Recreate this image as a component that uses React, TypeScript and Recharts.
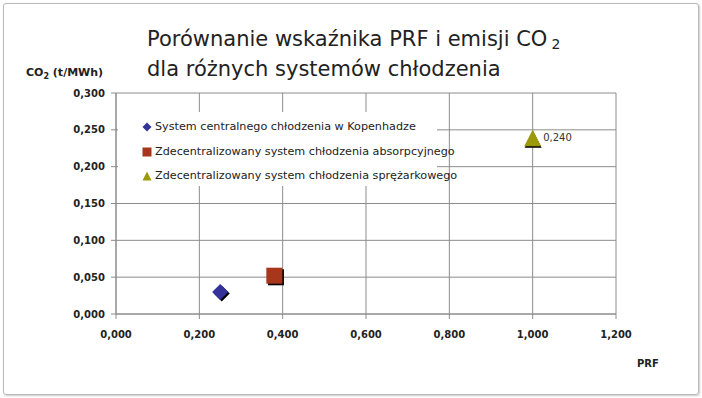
import React from 'react';
import { ScatterChart, Scatter, XAxis, YAxis, CartesianGrid, LabelList } from 'recharts';

const seriesNames = [
  'System centralnego chłodzenia w Kopenhadze',
  'Zdecentralizowany system chłodzenia absorpcyjnego',
  'Zdecentralizowany system chłodzenia sprężarkowego',
];
const prfValues = [0.25, 0.38, 1.0];
const co2Values = [0.03, 0.052, 0.24];
const labelTexts = ['', '', '0,240'];
const xTicks = [0, 0.2, 0.4, 0.6, 0.8, 1.0, 1.2];
const yTicks = [0, 0.05, 0.1, 0.15, 0.2, 0.25, 0.3];
const colors = ['#333399', '#A8361C', '#9C9A0A'];
const shapes = ['diamond', 'square', 'triangle'];

const fmt = (v: number) => v.toFixed(3).replace('.', ',');

function Marker(props: any) {
  const { cx, cy, kind, color } = props;
  if (cx == null || cy == null) return null;
  const s = 1.6;
  if (kind === 'diamond') {
    const r = 8;
    const pts = (dx: number, dy: number) =>
      `${cx + dx},${cy - r + dy} ${cx + r + dx},${cy + dy} ${cx + dx},${cy + r + dy} ${cx - r + dx},${cy + dy}`;
    return (
      <g>
        <polygon points={pts(s, s)} fill="#000" />
        <polygon points={pts(0, 0)} fill={color} />
      </g>
    );
  }
  if (kind === 'square') {
    const h = 8;
    return (
      <g>
        <rect x={cx - h + s} y={cy - h + s} width={2 * h} height={2 * h} fill="#000" />
        <rect x={cx - h} y={cy - h} width={2 * h} height={2 * h} fill={color} />
      </g>
    );
  }
  const w = 8.5;
  const pts = (dx: number, dy: number) =>
    `${cx + dx},${cy - 7.5 + dy} ${cx + w + dx},${cy + 9 + dy} ${cx - w + dx},${cy + 9 + dy}`;
  return (
    <g>
      <polygon points={pts(0.5, s)} fill="#000" />
      <polygon points={pts(0, 0)} fill={color} />
    </g>
  );
}

function LegendIcon({ kind, color }: { kind: string; color: string }) {
  return (
    <svg width={12} height={12} style={{ display: 'block' }}>
      {kind === 'diamond' && <polygon points="6,1.5 10.5,6 6,10.5 1.5,6" fill={color} />}
      {kind === 'square' && <rect x={1.5} y={1.5} width={9} height={9} fill={color} />}
      {kind === 'triangle' && <polygon points="6,1.5 10.5,10.5 1.5,10.5" fill={color} />}
    </svg>
  );
}

const tickStyle = {
  fill: '#222',
  fontSize: 10,
  fontWeight: 'bold',
  fontFamily: 'DejaVu Sans, Verdana, sans-serif',
};

export default function App() {
  const seriesData = seriesNames.map((name, i) => [
    { x: prfValues[i], y: co2Values[i], label: labelTexts[i], name },
  ]);
  return (
    <div
      style={{
        position: 'absolute',
        left: 0,
        top: 0,
        width: 702,
        height: 398,
        background: '#fff',
        fontFamily: 'DejaVu Sans, Verdana, sans-serif',
      }}
    >
      <div
        style={{
          position: 'absolute',
          left: 3,
          top: 3,
          width: 694,
          height: 390,
          border: '1px solid #b8b8b8',
          borderRadius: 3,
          boxShadow: '1px 1px 2px #ccc',
        }}
      />
      <div
        style={{
          position: 'absolute',
          left: 147,
          top: 25,
          fontSize: 21,
          lineHeight: '28px',
          color: '#222',
          whiteSpace: 'nowrap',
        }}
      >
        <div>
          Porównanie wskaźnika PRF i emisji CO
          <span style={{ fontSize: 14, position: 'relative', top: 3, marginLeft: 4 }}>2</span>
        </div>
        <div>dla różnych systemów chłodzenia</div>
      </div>
      <div
        style={{
          position: 'absolute',
          left: 26,
          top: 66,
          fontSize: 11,
          fontWeight: 'bold',
          color: '#222',
          whiteSpace: 'nowrap',
        }}
      >
        CO<span style={{ fontSize: 8, position: 'relative', top: 3 }}>2</span> (t/MWh)
      </div>
      <div
        style={{
          position: 'absolute',
          left: 637,
          top: 358,
          fontSize: 10,
          fontWeight: 'bold',
          color: '#222',
        }}
      >
        PRF
      </div>
      <ScatterChart
        width={702}
        height={398}
        margin={{ top: 93, right: 86, bottom: 54, left: 0 }}
        style={{ position: 'absolute', left: 0, top: 0 }}
      >
        <CartesianGrid stroke="#8c8c8c" strokeWidth={1} horizontalValues={yTicks} verticalValues={xTicks} />
        <XAxis
          type="number"
          dataKey="x"
          domain={[0, 1.2]}
          ticks={xTicks}
          tickFormatter={fmt}
          stroke="#8c8c8c"
          tickSize={5}
          tickMargin={12}
          height={30}
          tick={tickStyle}
          interval={0}
        />
        <YAxis
          type="number"
          dataKey="y"
          domain={[0, 0.3]}
          ticks={yTicks}
          tickFormatter={fmt}
          stroke="#8c8c8c"
          tickSize={5}
          tickMargin={6}
          width={116}
          tick={tickStyle}
          interval={0}
        />
        {seriesData.map((d, i) => (
          <Scatter
            key={i}
            name={seriesNames[i]}
            data={d}
            isAnimationActive={false}
            shape={(p: any) => <Marker {...p} kind={shapes[i]} color={colors[i]} />}
          >
            {labelTexts[i] && (
              <LabelList
                dataKey="label"
                position="right"
                offset={6}
                style={{ fill: '#333', fontSize: 10, fontFamily: 'DejaVu Sans, Verdana, sans-serif' }}
              />
            )}
          </Scatter>
        ))}
      </ScatterChart>
      <div
        style={{
          position: 'absolute',
          left: 118,
          top: 112,
          width: 319,
          height: 74,
          background: '#fff',
        }}
      >
        {seriesNames.map((n, i) => (
          <div
            key={i}
            style={{
              position: 'absolute',
              left: 23,
              top: 8 + i * 24.5,
              display: 'flex',
              alignItems: 'center',
              whiteSpace: 'nowrap',
              fontSize: 11.2,
              color: '#222',
              lineHeight: '14px',
            }}
          >
            <LegendIcon kind={shapes[i]} color={colors[i]} />
            <span style={{ marginLeft: 2 }}>{n}</span>
          </div>
        ))}
      </div>
    </div>
  );
}
